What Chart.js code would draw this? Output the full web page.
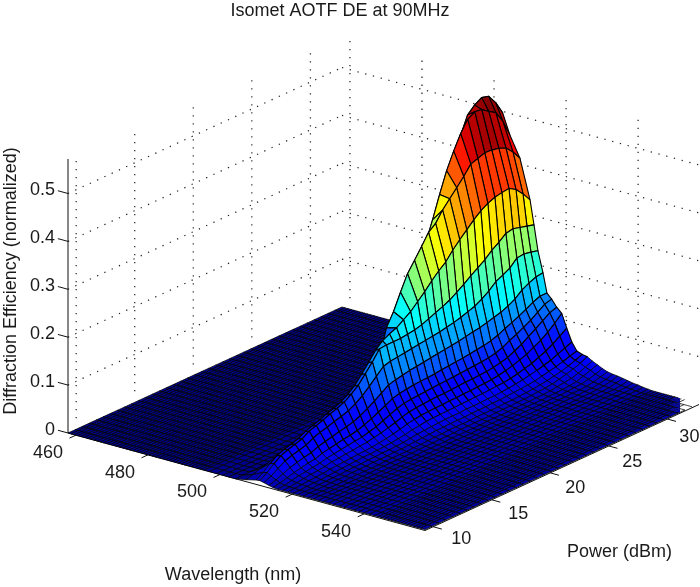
<!DOCTYPE html>
<html>
<head>
<meta charset="utf-8">
<title>Isomet AOTF DE at 90MHz</title>
<style>
  html, body { margin: 0; padding: 0; background: #fff; }
  canvas { display: block; }
</style>
<script src="https://cdn.jsdelivr.net/npm/chart.js@4"></script>
</head>
<body>
<canvas id="myChart" width="700" height="587"></canvas>
<script>
const wavelengthTicks = [460, 480, 500, 520, 540];
const powerTicks = [10, 15, 20, 25, 30];
const deTicks = [0, 0.1, 0.2, 0.3, 0.4, 0.5];

const powers = [9.3, 9.9, 10.5, 11.1, 11.7, 12.3, 12.9, 13.5, 14.1, 14.7, 15.3, 15.9, 16.5, 17.1, 17.7, 18.3, 18.9, 19.5, 20.1, 20.7,
  21.3, 21.9, 22.5, 23.1, 23.7, 24.3, 24.9, 25.5, 26.1, 26.7, 27.3, 27.9, 28.5, 29.1, 29.7, 30.3, 30.9, 31.5, 32.1, 32.7];

const wavelengths = [457.8, 458.7, 459.6, 460.5, 461.4, 462.3, 463.2, 464.1, 465, 465.9, 466.8, 467.7, 468.6, 469.5, 470.4, 471.3, 472.2, 473.1, 474, 474.9,
  475.8, 476.7, 477.6, 478.5, 479.4, 480.3, 481.2, 482.1, 483, 483.9, 484.8, 485.7, 486.6, 487.5, 488.4, 489.3, 490.2, 491.1, 492, 492.9,
  493.8, 494.7, 495.6,
  497, 499, 500.8, 502.4, 504.4, 507.2, 510, 511.1, 512.2, 513.6, 514.7,
  516, 517.4, 518.8, 520.2, 521.6, 523, 524.5, 525.9, 527.3, 528.7, 530.1, 531.5, 533, 534.4, 535.8, 537.2, 538.6, 540, 541.4, 542.8,
  543.9, 544.8, 545.7, 546.6, 547.5, 548.4, 549.3, 550.2, 551.1, 552, 552.9, 553.8, 554.7, 555.6, 556.9];

// flat parts of the surface, DE in thousandths
const flatLeft = [0,0,0,0,0,0,0,0,0,0,0,0,0,0,0,0,0,0,0,0,0,0,0,0,0,0,0,0,0,0,0,0,0,0,0,0,0,0,0,0];
const flatRight = [2,2,2,2,2,2,2,2,2,2,2,2,2,2,2,2,2,2,2,2,2,2,2,2,2,2,2,2,2,2,2,2,2,2,2,2,2,2,2,2];

// one row per wavelength, one column per power, DE in thousandths
const deRows = [
  flatLeft, flatLeft, flatLeft, flatLeft, flatLeft, flatLeft, flatLeft, flatLeft, flatLeft, flatLeft,
  flatLeft, flatLeft, flatLeft, flatLeft, flatLeft, flatLeft, flatLeft, flatLeft, flatLeft, flatLeft,
  flatLeft, flatLeft, flatLeft, flatLeft, flatLeft, flatLeft, flatLeft, flatLeft, flatLeft, flatLeft,
  flatLeft, flatLeft, flatLeft, flatLeft, flatLeft, flatLeft, flatLeft, flatLeft, flatLeft, flatLeft,
  flatLeft, flatLeft, flatLeft,
  [0,0,0,0,0,0,0,0,0,0,0,0,0,0,0,0,0,0,0,0,0,0,0,0,0,0,0,0,1,1,2,3,5,8,13,20,28,27,24,20],
  [0,0,0,0,0,0,0,0,0,0,0,0,0,0,0,0,0,0,0,0,0,0,0,0,0,1,2,4,7,12,20,33,55,85,130,170,195,190,170,150],
  [0,0,0,0,0,0,0,0,0,0,0,0,0,0,0,0,0,0,0,0,1,2,3,4,6,9,14,26,40,64,91,145,214,293,367,416,445,440,410,370],
  [0,0,0,0,0,0,0,0,1,1,1,1,1,1,1,1,1,2,2,4,6,7,13,23,30,43,77,124,152,214,259,340,418,490,526,540,549,545,525,497],
  [0,1,1,1,1,2,2,2,2,2,2,3,3,3,3,4,5,5,6,16,47,60,89,127,152,187,246,309,352,398,441,475,505,528,537,535,524,515,490,455],
  [4,8,13,17,19,21,23,26,28,30,33,35,37,41,46,53,60,77,100,130,186,213,247,279,300,322,345,357,378,395,411,428,447,452,457,456,453,447,432,412],
  [9,18,30,40,46,50,55,63,68,73,79,84,90,99,111,128,146,165,178,186,192,202,212,226,240,256,270,282,300,315,329,343,355,364,370,373,375,366,350,331],
  [10,20,32,42,48,52,57,66,71,76,82,87,93,103,115,132,150,170,172,172,172,174,176,180,186,192,198,205,214,224,235,245,255,268,278,290,293,289,285,281],
  [8,15,24,33,38,42,46,54,59,63,68,72,77,85,95,108,122,136,140,142,144,146,148,150,152,154,157,160,164,169,174,182,192,205,212,220,234,236,233,229],
  [5,10,16,22,26,30,33,39,43,46,50,53,57,63,71,80,90,100,104,107,110,112,114,116,118,120,122,124,127,130,132,136,140,144,150,158,170,178,184,186],
  [3,6,10,14,17,20,22,27,30,33,36,38,41,46,52,59,66,74,78,80,82,83,84,85,87,88,90,91,93,95,97,100,105,112,118,125,132,140,146,146],
  [2,4,7,10,12,14,16,20,22,24,26,28,30,34,38,44,50,56,60,62,63,64,65,66,67,68,69,70,71,72,74,77,82,90,96,104,112,122,132,136],
  [2,3,5,7,9,10,12,15,16,18,19,21,22,25,28,32,36,41,45,47,48,49,50,50,51,52,53,53,54,55,57,60,64,71,78,88,97,107,117,122],
  [2,3,4,5,6,7,9,10,11,12,13,14,15,17,19,22,25,29,32,34,35,36,36,37,37,38,38,39,40,41,43,46,50,55,60,68,76,86,98,112],
  [2,2,3,4,4,5,6,7,8,9,10,10,11,12,13,15,17,20,22,24,25,25,26,26,27,27,28,28,29,30,31,33,36,40,44,50,56,64,74,84],
  [2,2,2,3,3,4,4,5,6,6,7,7,8,8,9,10,12,14,15,16,17,18,18,18,19,19,19,20,20,21,22,24,26,29,32,36,40,46,52,58],
  [2,2,2,2,3,3,3,4,4,4,5,5,5,6,6,7,8,9,10,11,11,12,12,12,13,13,13,14,14,15,16,17,18,20,23,26,29,33,38,42],
  [2,2,2,2,2,2,3,3,3,3,3,4,4,4,4,5,5,6,7,7,8,8,8,8,9,9,9,9,10,10,11,12,13,15,17,20,23,27,32,38],
  [2,2,2,2,2,2,2,2,2,3,3,3,3,3,3,4,4,4,5,5,5,6,6,6,6,6,7,7,7,8,8,9,10,11,13,16,20,24,29,36],
  [2,2,2,2,2,2,2,2,2,2,2,2,2,2,2,3,3,3,3,4,4,4,4,4,5,5,5,5,6,6,6,7,7,8,10,12,14,18,24,30],
  [2,2,2,2,2,2,2,2,2,2,2,2,2,2,2,2,2,2,3,3,3,3,4,4,4,4,4,4,5,5,5,5,6,6,7,8,10,15,20,25],
  [2,2,2,2,2,2,2,2,2,2,2,2,2,2,2,2,2,2,2,2,3,3,3,3,3,3,4,4,4,4,4,5,5,5,6,7,8,11,15,20],
  [2,2,2,2,2,2,2,2,2,2,2,2,2,2,2,2,2,2,2,2,2,2,3,3,3,3,3,3,3,3,4,4,4,4,5,5,6,8,12,16],
  [2,2,2,2,2,2,2,2,2,2,2,2,2,2,2,2,2,2,2,2,2,2,2,2,3,3,3,3,3,3,3,3,4,4,4,5,5,7,10,14],
  [2,2,2,2,2,2,2,2,2,2,2,2,2,2,2,2,2,2,2,2,2,2,2,2,2,2,3,3,3,3,3,3,3,3,4,4,5,6,9,13],
  [2,2,2,2,2,2,2,2,2,2,2,2,2,2,2,2,2,2,2,2,2,2,2,2,2,2,2,2,3,3,3,3,3,3,3,4,4,5,8,11],
  [2,2,2,2,2,2,2,2,2,2,2,2,2,2,2,2,2,2,2,2,2,2,2,2,2,2,2,2,2,2,2,3,3,3,3,3,4,4,6,9],
  [2,2,2,2,2,2,2,2,2,2,2,2,2,2,2,2,2,2,2,2,2,2,2,2,2,2,2,2,2,2,2,2,2,3,3,3,3,4,5,7],
  [2,2,2,2,2,2,2,2,2,2,2,2,2,2,2,2,2,2,2,2,2,2,2,2,2,2,2,2,2,2,2,2,2,2,2,3,3,3,4,6],
  [2,2,2,2,2,2,2,2,2,2,2,2,2,2,2,2,2,2,2,2,2,2,2,2,2,2,2,2,2,2,2,2,2,2,2,2,2,3,3,4],
  [2,2,2,2,2,2,2,2,2,2,2,2,2,2,2,2,2,2,2,2,2,2,2,2,2,2,2,2,2,2,2,2,2,2,2,2,2,2,2,3],
  flatRight, flatRight, flatRight, flatRight, flatRight, flatRight, flatRight, flatRight, flatRight, flatRight,
  flatRight, flatRight, flatRight, flatRight, flatRight
];

// fixed view of the 3D box on the page
const wlMin = 457.8, wlMax = 556.9;
const pMin = 9.3, pMax = 32.7;
const zAxisTop = 0.572, zGridTop = 0.56;
const titleHeight = 22;

function project(wl, p, z) {
  const a = (wl - wlMin) / (wlMax - wlMin);
  const b = (p - pMin) / (pMax - pMin);
  return { x: 68 + 357 * a + 274 * b, y: 433 + 97.5 * a - 126 * b - 479 * z };
}

// matlab jet, 64 steps, the blue end opened up a bit for the near flat cells
function jetColor(z) {
  const t = Math.min(z / 0.556, 1);
  const v = (Math.min(Math.floor(t * 64), 63) + 0.5) / 64;
  const clamp = (n) => Math.max(0, Math.min(1, n));
  const r = clamp(1.5 - Math.abs(4 * v - 3));
  const g = clamp(1.5 - Math.abs(4 * v - 2));
  let b = clamp(1.5 - Math.abs(4 * v - 1));
  if (z < 0.07) b = z >= 0.03 ? 1 : 0.56 + 0.44 * Math.pow(z / 0.03, 0.6);
  return 'rgb(' + Math.round(r * 255) + ',' + Math.round(g * 255) + ',' + Math.round(b * 255) + ')';
}

function lineSet(points, color, width, dash) {
  return {
    data: points, showLine: true, fill: false, borderColor: color, borderWidth: width,
    borderDash: dash || [], pointRadius: 0, pointHoverRadius: 0, tension: 0, clip: false
  };
}

const datasets = [];

// index 0 is painted last, so the cells nearest the viewer come first
for (let i = wavelengths.length - 2; i >= 0; i--) {
  for (let j = 0; j < powers.length - 1; j++) {
    const z00 = deRows[i][j] / 1000, z01 = deRows[i][j + 1] / 1000;
    const z10 = deRows[i + 1][j] / 1000, z11 = deRows[i + 1][j + 1] / 1000;
    const first = project(wavelengths[i], powers[j], z00);
    datasets.push({
      data: [first, project(wavelengths[i + 1], powers[j], z10), project(wavelengths[i + 1], powers[j + 1], z11),
        project(wavelengths[i], powers[j + 1], z01), first],
      showLine: true, fill: 'shape', backgroundColor: jetColor(z00), borderColor: '#000',
      borderWidth: z00 < 0.03 ? 0.75 : 1.1,
      pointRadius: 0, pointHoverRadius: 0, tension: 0, clip: false, borderJoinStyle: 'round'
    });
  }
}

// axis lines and tick marks
const ink = '#111';
datasets.push(lineSet([project(wlMin, pMin, 0), project(wlMin, pMin, zAxisTop)], ink, 1));
datasets.push(lineSet([project(wlMin, pMin, 0), project(wlMax, pMin, 0)], ink, 1));
datasets.push(lineSet([project(wlMax, pMin, 0), project(wlMax, pMax, 0)], ink, 1));
deTicks.forEach(function (d) {
  datasets.push(lineSet([project(wlMin, pMin, d), project(wlMin - 2.8, pMin, d)], ink, 1));
});
wavelengthTicks.forEach(function (w) {
  datasets.push(lineSet([project(w, pMin, 0), project(w, pMin - 0.55, 0)], ink, 1));
});
powerTicks.forEach(function (p) {
  datasets.push(lineSet([project(wlMax, p, 0), project(wlMax + 2.4, p, 0)], ink, 1));
});

// dotted grid on the two back walls, the floor lines stay hidden under the surface
const dots = [1.3, 6.7];
const gridInk = '#222';
deTicks.filter(function (d) { return d > 0; }).forEach(function (d) {
  datasets.push(lineSet([project(wlMin, pMin, d), project(wlMin, pMax, d)], gridInk, 1.2, dots));
  datasets.push(lineSet([project(wlMin, pMax, d), project(wlMax, pMax, d)], gridInk, 1.2, dots));
});
powerTicks.forEach(function (p) {
  datasets.push(lineSet([project(wlMin, p, zGridTop), project(wlMin, p, 0.01)], gridInk, 1.2, dots));
});
wavelengthTicks.forEach(function (w) {
  datasets.push(lineSet([project(w, pMax, zGridTop), project(w, pMax, 0.01)], gridInk, 1.2, dots));
});

const fontName = '"Liberation Sans", Arial, sans-serif';
const textInk = '#1a1a1a';

const boxLabels = {
  id: 'boxLabels',
  afterDraw(chart) {
    const ctx = chart.ctx;
    const sx = chart.scales.x, sy = chart.scales.y;
    const put = function (text, pos, dx, dy, align) {
      ctx.textAlign = align;
      ctx.fillText(text, sx.getPixelForValue(pos.x) + dx, sy.getPixelForValue(pos.y) + dy);
    };
    ctx.save();
    ctx.font = '18px ' + fontName;
    ctx.fillStyle = textInk;
    ctx.textBaseline = 'middle';
    deTicks.forEach(function (d) {
      put(String(d), project(wlMin, pMin, d), -13, -3, 'right');
    });
    wavelengthTicks.forEach(function (w) {
      put(String(w), project(w, pMin, 0), -28, 18, 'center');
    });
    powerTicks.forEach(function (p) {
      put(String(p), project(wlMax, p, 0), 22 + (30 - p) * 0.3, 15 + (p - 20) * 0.25, 'center');
    });
    ctx.textAlign = 'center';
    ctx.fillText('Wavelength (nm)', 233, 575);
    ctx.fillText('Power (dBm)', 619.5, 552);
    ctx.translate(11, 281);
    ctx.rotate(-Math.PI / 2);
    ctx.fillText('Diffraction Efficiency (normalized)', 0, 0);
    ctx.restore();
  }
};

Chart.defaults.font.family = fontName;

new Chart('myChart', {
  type: 'scatter',
  data: { datasets: datasets },
  plugins: [boxLabels],
  options: {
    responsive: false,
    animation: false,
    parsing: false,
    normalized: true,
    events: [],
    devicePixelRatio: 1,
    // the title sits left of the page centre in the reference
    layout: { padding: { right: 20 } },
    scales: {
      x: { type: 'linear', display: false, min: 0, max: 680 },
      y: { type: 'linear', display: false, reverse: true, min: titleHeight, max: 587 }
    },
    plugins: {
      legend: { display: false },
      tooltip: { enabled: false },
      title: {
        display: true,
        text: 'Isomet AOTF DE at 90MHz',
        color: textInk,
        font: { size: 18, weight: 'normal', lineHeight: 1 },
        padding: { top: 2.5, bottom: 1.5 }
      }
    }
  }
});
</script>
</body>
</html>
